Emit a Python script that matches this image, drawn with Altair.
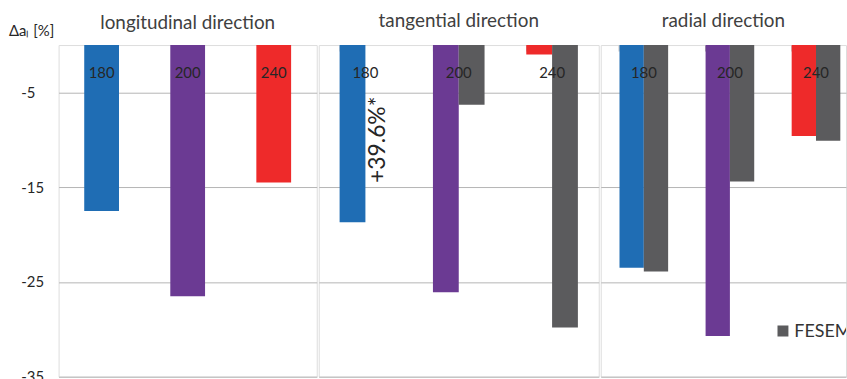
import altair as alt
import pandas as pd

# Relative change of the lattice parameter per direction and treatment temperature
categories = ["180", "200", "240"]
long_values = [-17.5, -26.5, -14.5]
tang_values = [-18.7, -26.1, -1.0]
tang_fesem = [39.6, -6.3, -29.8]
rad_values = [-23.5, -30.7, -9.6]
rad_fesem = [-23.9, -14.4, -10.1]

series_order = ["calc", "FESEM"]
color_domain = ["180", "200", "240", "FESEM"]
color_range = ["#1f6db4", "#6b3a93", "#ee2a2a", "#5b5b5d"]

FONT = "Lato"
TEXT = "#262626"
GRID = "#b4b4b4"
Y_DOMAIN = [-35, 0]
PLOT_H = 334


def frame(values, fesem=None):
    rows = []
    for c, v in zip(categories, values):
        rows.append({"cat": c, "series": "calc", "value": v, "key": c})
    if fesem is not None:
        for c, v in zip(categories, fesem):
            rows.append({"cat": c, "series": "FESEM", "value": v, "key": "FESEM"})
    return pd.DataFrame(rows)


color = alt.Color(
    "key:N",
    scale=alt.Scale(domain=color_domain, range=color_range),
    legend=None,
)


def y_enc(first):
    if first:
        axis = alt.Axis(
            values=[-5, -15, -25, -35],
            labelExpr="datum.value + ''",
            labelAlign="left",
            labelPadding=38,
            ticks=False,
            domain=False,
            grid=True,
            gridColor=GRID,
            labelFont=FONT,
            labelFontSize=15,
            labelColor=TEXT,
            title=None,
        )
    else:
        axis = alt.Axis(
            values=[-5, -15, -25, -35],
            labels=False,
            ticks=False,
            domain=False,
            grid=True,
            gridColor=GRID,
            title=None,
        )
    return alt.Y("value:Q", scale=alt.Scale(domain=Y_DOMAIN, nice=False), axis=axis)


def panel(title, df, width, pad_inner, paired, first=False, top_ticks=False,
          pad_outer=None, align=0.5, legend=False, title_offset=14):
    x_axis = None
    if top_ticks:
        x_axis = alt.Axis(
            orient="top",
            labels=False,
            domain=False,
            ticks=True,
            tickSize=6,
            tickColor=GRID,
            bandPosition=0,
            offset=-6,
            title=None,
            grid=False,
        )
    if pad_outer is None:
        pad_outer = pad_inner / 2
    x = alt.X(
        "cat:N",
        sort=categories,
        scale=alt.Scale(paddingInner=pad_inner, paddingOuter=pad_outer, align=align),
        axis=x_axis,
    )
    enc = dict(x=x, y=y_enc(first), color=color)
    if paired:
        enc["xOffset"] = alt.XOffset(
            "series:N", sort=series_order, scale=alt.Scale(domain=series_order, paddingInner=0)
        )
    bars = alt.Chart(df).mark_bar(clip=True).encode(**enc)

    labels = (
        alt.Chart(pd.DataFrame({"cat": categories}))
        .mark_text(font=FONT, fontSize=15, color=TEXT)
        .encode(x=alt.X("cat:N", sort=categories), y=alt.datum(-3.0), text="cat:N")
    )
    layers = [bars, labels]

    if first:
        # quantity name above the value axis
        unit = (
            alt.Chart(pd.DataFrame({"t": ["Δaₗ [%]"]}))
            .mark_text(font=FONT, fontSize=15, color=TEXT, align="left", baseline="bottom")
            .encode(x=alt.value(-50), y=alt.value(-6), text="t:N")
        )
        layers.append(unit)

    if paired:
        off = df[df["value"] > 0].copy()
        if len(off):
            off["label"] = off["value"].map(lambda v: f"+{v:.1f}%*")
            note = (
                alt.Chart(off)
                .mark_text(font=FONT, fontSize=23, color=TEXT, angle=270, baseline="middle")
                .encode(
                    x=alt.X("cat:N", sort=categories),
                    xOffset=alt.XOffset("series:N", sort=series_order),
                    y=alt.datum(-10.0),
                    text="label:N",
                )
            )
            layers.append(note)

    if legend:
        # series key for the FESEM bars, clipped at the panel edge
        key_df = pd.DataFrame({"name": ["FESEM"]})
        swatch = (
            alt.Chart(key_df)
            .mark_square(size=121, opacity=1, clip=True)
            .encode(x=alt.value(183.5), y=alt.value(288), color=alt.value(color_range[3]))
        )
        key_text = (
            alt.Chart(key_df)
            .mark_text(font=FONT, fontSize=18, color="#333333", align="left",
                       baseline="middle", clip=True)
            .encode(x=alt.value(195), y=alt.value(289), text="name:N")
        )
        layers += [swatch, key_text]

    return alt.layer(*layers).properties(
        width=width,
        height=PLOT_H,
        title=alt.TitleParams(
            title, font=FONT, fontSize=19, fontWeight="normal", color="#404040",
            offset=title_offset,
        ),
    )


p1 = panel("longitudinal direction", frame(long_values), 260, 0.596, paired=False,
           first=True, title_offset=-9)
p2 = panel("tangential direction", frame(tang_values, tang_fesem), 282, 0.447,
           paired=True, top_ticks=True)
# radial panel runs to the right edge; its last slot keeps the same step
p3 = panel("radial direction", frame(rad_values, rad_fesem), 247, 0.435,
           paired=True, top_ticks=True, pad_outer=0.142, align=0.767, legend=True)

chart = (
    alt.hconcat(p1, p2, p3, spacing=0)
    .resolve_scale(x="independent", xOffset="independent")
    .properties(padding={"left": 8, "top": 10, "right": 0, "bottom": 0})
    .configure_view(stroke=GRID, strokeWidth=1)
    .configure(background="white")
)

chart.save("out.html", embed_options={"renderer": "svg", "actions": False})
